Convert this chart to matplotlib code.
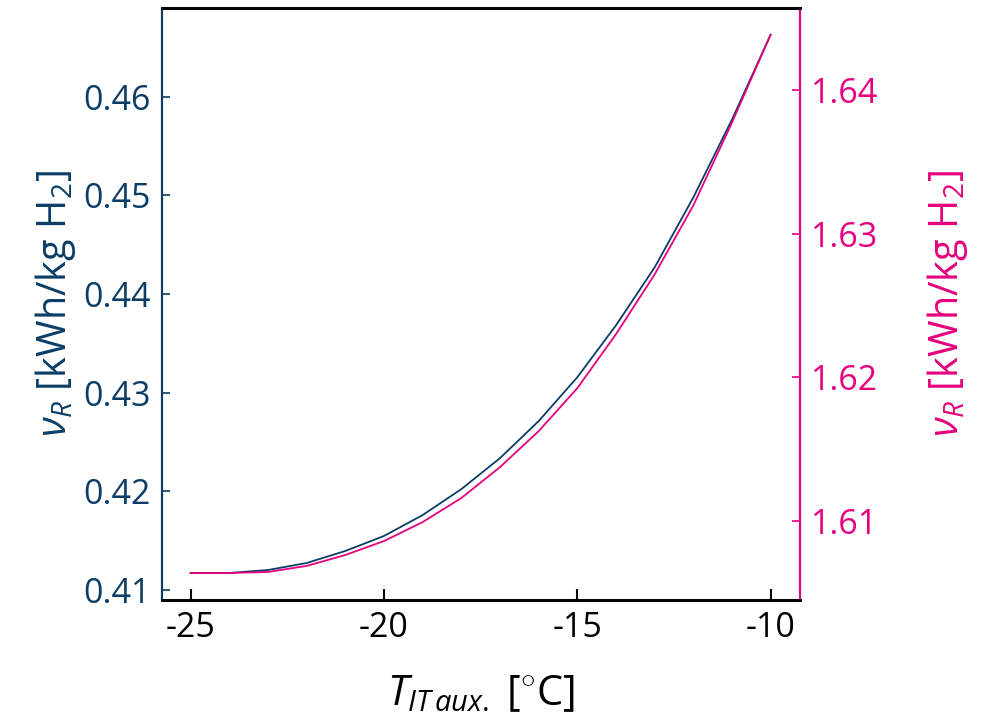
import matplotlib
matplotlib.use("Agg")
import matplotlib.pyplot as plt

temps = [-25, -24, -23, -22, -21, -20, -19, -18, -17, -16, -15, -14, -13, -12, -11, -10]
nu_left = [0.41172, 0.41172, 0.41202, 0.41273, 0.41395, 0.41547, 0.41759, 0.42022,
           0.42336, 0.42711, 0.43156, 0.43682, 0.44269, 0.44978, 0.45767, 0.46628]
nu_right = [1.60639, 1.60639, 1.60646, 1.60688, 1.60764, 1.60861, 1.60993, 1.61160,
            1.61375, 1.61625, 1.61924, 1.62299, 1.62715, 1.63194, 1.63771, 1.64382]
left_ticks = [0.41, 0.42, 0.43, 0.44, 0.45, 0.46]
right_ticks = [1.61, 1.62, 1.63, 1.64]
x_ticks = [-25, -20, -15, -10]

blue = '#0b3d66'
pink = '#e6007e'

plt.rcParams['font.family'] = ['Open Sans', 'DejaVu Sans']
plt.rcParams['mathtext.fontset'] = 'custom'
plt.rcParams['mathtext.rm'] = 'Open Sans'
plt.rcParams['mathtext.it'] = 'Open Sans:italic'
plt.rcParams['mathtext.bf'] = 'Open Sans:bold'

fig = plt.figure(figsize=(9.92, 7.21), dpi=100)
ax = fig.add_axes([0.163, 0.168, 0.643, 0.821])
ax2 = ax.twinx()

ax.plot(temps, nu_left, color=blue, lw=1.3)
ax2.plot(temps, nu_right, color=pink, lw=1.3)

fs = 24.5
lfs = 28.5
ax.set_xticks(x_ticks)
ax.set_xticklabels([str(t) for t in x_ticks])
ax.set_yticks(left_ticks)
ax.set_yticklabels([f'{v:.2f}' for v in left_ticks])
ax2.set_yticks(right_ticks)
ax2.set_yticklabels([f'{v:.2f}' for v in right_ticks])

ax.tick_params(axis='x', direction='in', length=8, width=1.5, labelsize=fs, pad=8, colors='black')
ax.tick_params(axis='y', direction='in', length=6, width=1.2, labelsize=fs, colors=blue, pad=8)
ax2.tick_params(axis='y', direction='in', length=6, width=1.2, labelsize=fs, colors=pink, pad=8)

ax.set_ylabel(r'$\nu_R$ [kWh/kg H$_2$]', fontsize=lfs, color=blue, labelpad=4)
ax2.set_ylabel(r'$\nu_R$ [kWh/kg H$_2$]', fontsize=lfs, color=pink, labelpad=34)
ax.set_xlabel(r'$T_{IT\,aux.}$ [$^{\circ}$C]', fontsize=30, labelpad=20)

for a in (ax, ax2):
    a.spines['top'].set_color('black')
    a.spines['top'].set_linewidth(2)
    a.spines['bottom'].set_color('black')
    a.spines['bottom'].set_linewidth(2)
    a.spines['left'].set_color(blue)
    a.spines['left'].set_linewidth(1.5)
    a.spines['right'].set_color(pink)
    a.spines['right'].set_linewidth(1.5)

fig.savefig('out.png', dpi=100)
